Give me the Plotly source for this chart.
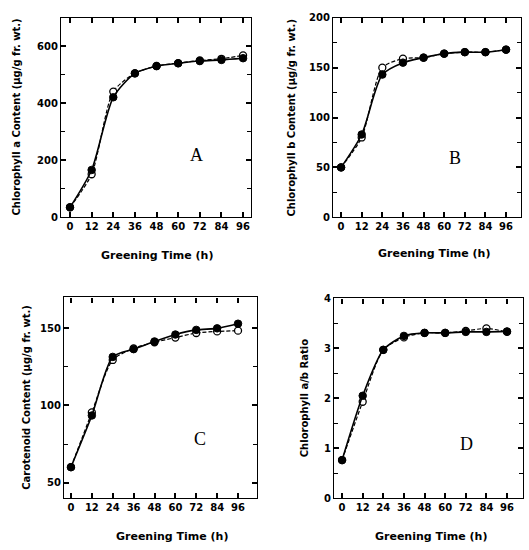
import plotly.graph_objects as go

hours = [0, 12, 24, 36, 48, 60, 72, 84, 96]
x_ticks = [0, 12, 24, 36, 48, 60, 72, 84, 96]

chla_filled = [35, 166, 421, 505, 530, 540, 548, 552, 558]
chla_open = [35, 151, 441, 505, 531, 541, 550, 556, 568]
chla_ticks = [0, 200, 400, 600]
chla_minor = [100, 300, 500, 700]

chlb_filled = [50, 83, 143, 155, 160, 164, 165.5, 165.5, 168]
chlb_open = [50, 80, 150, 159, 160, 164, 165.5, 165.5, 168]
chlb_ticks = [0, 50, 100, 150, 200]
chlb_minor = [25, 75, 125, 175]

car_filled = [60, 93.5, 131.5, 136.5, 141.5, 146, 149, 150, 153]
car_open = [60, 95.5, 129.5, 137, 141, 144, 147, 148, 148.5]
car_ticks = [50, 100, 150]
car_minor = [75, 125]

ratio_filled = [0.76, 2.05, 2.97, 3.25, 3.31, 3.31, 3.33, 3.33, 3.34]
ratio_open = [0.76, 1.93, 2.97, 3.22, 3.31, 3.31, 3.35, 3.40, 3.33]
ratio_ticks = [0, 1, 2, 3, 4]
ratio_minor = [0.5, 1.5, 2.5, 3.5]

x_title = "Greening Time (h)"
y_titles = ["Chlorophyll a Content (μg/g fr. wt.)",
            "Chlorophyll b Content (μg/g fr. wt.)",
            "Carotenoid Content (μg/g fr. wt.)",
            "Chlorophyll a/b Ratio"]
letters = ["A", "B", "C", "D"]

W, H = 529, 550

panels = [
    dict(box=(61, 251, 12, 216), xr=[-5, 100.4], yr=[0, 700], yt=chla_ticks, ym=chla_minor,
         filled=chla_filled, open=chla_open, ytx=17, xtx=157, xty=255, let=(196, 152)),
    dict(box=(333, 521, 12, 216), xr=[-4.7, 104.7], yr=[0, 200], yt=chlb_ticks, ym=chlb_minor,
         filled=chlb_filled, open=chlb_open, ytx=292, xtx=434, xty=253, let=(455, 155)),
    dict(box=(64, 257, 298, 503), xr=[-4, 106.9], yr=[40, 170], yt=car_ticks, ym=car_minor,
         filled=car_filled, open=car_open, ytx=27, xtx=172, xty=542, let=(200, 443)),
    dict(box=(334, 523, 299, 503), xr=[-4.7, 105.3], yr=[0, 4], yt=ratio_ticks, ym=ratio_minor,
         filled=ratio_filled, open=ratio_open, ytx=304, xtx=431, xty=542, let=(466, 448)),
]

fig = go.Figure()
font_t = dict(family="DejaVu Sans", size=10, color="black")
annotations = []


def bold(vals):
    return ["<b>%g</b>" % v for v in vals]


for i, p in enumerate(panels):
    n = "" if i == 0 else str(i + 1)
    xa, ya = "x" + n, "y" + n
    x0, x1, yt, yb = p["box"]
    fig.add_trace(go.Scatter(x=hours, y=p["open"], xaxis=xa, yaxis=ya, mode="lines+markers",
                             line=dict(color="black", width=1.2, shape="spline", smoothing=0.7,
                                       dash="4px,2px"),
                             marker=dict(symbol="circle", size=7, color="white",
                                         line=dict(color="black", width=1.3)),
                             showlegend=False))
    fig.add_trace(go.Scatter(x=hours, y=p["filled"], xaxis=xa, yaxis=ya, mode="lines+markers",
                             line=dict(color="black", width=1.6, shape="spline", smoothing=0.7),
                             marker=dict(symbol="circle", size=7.5, color="black",
                                         line=dict(color="black", width=1)),
                             showlegend=False))
    axcommon = dict(showgrid=False, zeroline=False, showline=True, linecolor="black", linewidth=1.3,
                    mirror="ticks", ticks="inside", ticklen=5, tickcolor="black", tickwidth=1.5,
                    tickfont=font_t, tickmode="array")
    fig.update_layout(**{
        "xaxis" + n: dict(domain=[x0 / W, x1 / W], range=p["xr"], anchor=ya,
                          tickvals=x_ticks, ticktext=bold(x_ticks), **axcommon),
        "yaxis" + n: dict(domain=[1 - yb / H, 1 - yt / H], range=p["yr"], anchor=xa,
                          tickvals=p["yt"], ticktext=bold(p["yt"]),
                          minor=dict(tickmode="array", tickvals=p["ym"], ticks="inside",
                                     ticklen=4, tickcolor="black", tickwidth=1.3),
                          **axcommon),
    })
    annotations.append(dict(text="<b>%s</b>" % x_title, x=p["xtx"] / W, y=1 - p["xty"] / H,
                            xref="paper", yref="paper",
                            showarrow=False, xanchor="center", yanchor="middle",
                            font=dict(family="DejaVu Sans", size=11, color="black")))
    annotations.append(dict(text="<b>%s</b>" % y_titles[i], x=p["ytx"] / W, y=1 - ((yt + yb) / 2) / H,
                            xref="paper", yref="paper", textangle=-90,
                            showarrow=False, xanchor="center", yanchor="middle",
                            font=dict(family="DejaVu Sans", size=10, color="black")))
    annotations.append(dict(text=letters[i], x=p["let"][0] / W, y=1 - p["let"][1] / H,
                            xref="paper", yref="paper", showarrow=False,
                            xanchor="center", yanchor="middle",
                            font=dict(family="Liberation Serif", size=18, color="black")))

fig.update_layout(width=W, height=H, margin=dict(l=0, r=0, t=0, b=0),
                  paper_bgcolor="white", plot_bgcolor="white", annotations=annotations)
fig.write_html("out.html")
